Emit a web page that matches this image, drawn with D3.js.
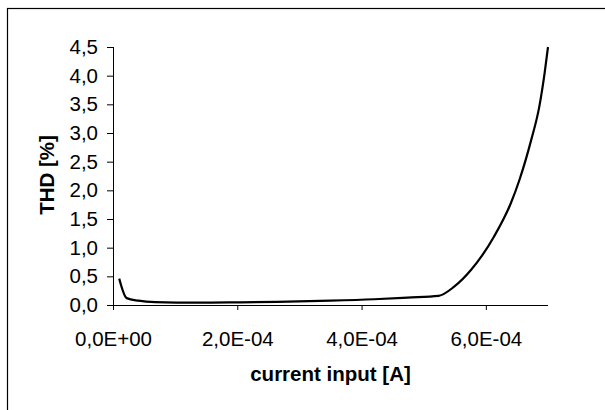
<!DOCTYPE html>
<html>
<head>
<meta charset="utf-8">
<script src="https://d3js.org/d3.v7.min.js"></script>
<style>
  body { margin: 0; background: #fff; }
</style>
</head>
<body>
<div id="chart"></div>
<script>
// current input [A]
const current = [1.0e-5, 2.2e-5, 4.1e-5, 6.8e-5, 1.37e-4, 2.05e-4, 2.64e-4, 3.5e-4, 4.2e-4, 4.74e-4, 5.24e-4,
  5.49e-4, 5.76e-4, 6.13e-4, 6.40e-4, 6.54e-4, 6.73e-4, 6.86e-4, 6.945e-4, 7.0e-4];
// THD [%]
const thd = [0.46, 0.12, 0.075, 0.05, 0.04, 0.047, 0.055, 0.075, 0.10, 0.13, 0.16,
  0.32, 0.61, 1.19, 1.77, 2.18, 2.88, 3.46, 4.04, 4.5];
const xTicks = [0, 2e-4, 4e-4, 6e-4];
const yTicks = [0, 0.5, 1, 1.5, 2, 2.5, 3, 3.5, 4, 4.5];

const W = 605, H = 410;
const margin = { top: 47, right: 57, bottom: 105, left: 113 };
const width = W - margin.left - margin.right,
      height = H - margin.top - margin.bottom;
const font = "'Liberation Sans', Arial, sans-serif";

const svg = d3.select("#chart").append("svg")
  .attr("width", W).attr("height", H);

// outer frame (runs off the right and bottom)
svg.append("rect")
  .attr("x", 7.5).attr("y", 8.5)
  .attr("width", 700).attr("height", 500)
  .attr("fill", "none").attr("stroke", "#000").attr("stroke-width", 1.2);

const g = svg.append("g").attr("transform", `translate(${margin.left},${margin.top})`);

const x = d3.scaleLinear().domain([0, 7e-4]).range([0, width]);
const y = d3.scaleLinear().domain([0, 4.5]).range([height, 0]);

const fmtX = d => {
  const s = d3.format(".1e")(d).replace(".", ",");
  return s.replace(/e([+-])(\d+)$/, (m, sg, ex) => "E" + sg + ex.padStart(2, "0"));
};
const fmtY = d => d3.format(".1f")(d).replace(".", ",");

const xAxis = g.append("g")
  .attr("transform", `translate(0,${height})`)
  .call(d3.axisBottom(x).tickValues(xTicks).tickSize(5).tickPadding(21).tickFormat(fmtX));
xAxis.select(".domain").attr("d", `M0.5,0.5H${width}`);

const yAxis = g.append("g")
  .call(d3.axisLeft(y).tickValues(yTicks).tickSize(6).tickPadding(9).tickFormat(fmtY));
yAxis.select(".domain").attr("d", `M0.5,0H0.5V${height}`);

g.selectAll(".domain, .tick line").attr("stroke", "#000");
g.selectAll(".tick text")
  .attr("fill", "#000")
  .style("font-size", "20.5px").style("font-family", font);

const data = current.map((c, i) => ({ c: c, v: thd[i] }));

g.append("path")
  .datum(data)
  .attr("fill", "none")
  .attr("stroke", "#000")
  .attr("stroke-width", 2.2)
  .attr("d", d3.line().x(d => x(d.c)).y(d => y(d.v)).curve(d3.curveMonotoneX));

// axis titles
g.append("text")
  .attr("text-anchor", "middle")
  .attr("x", width / 2)
  .attr("y", height + 76)
  .style("font-size", "20.5px").style("font-weight", "bold").style("font-family", font)
  .text("current input [A]");

g.append("text")
  .attr("text-anchor", "middle")
  .attr("transform", `translate(${53.5 - margin.left},${175 - margin.top}) rotate(-90)`)
  .style("font-size", "20.5px").style("font-weight", "bold").style("font-family", font)
  .text("THD [%]");
</script>
</body>
</html>
